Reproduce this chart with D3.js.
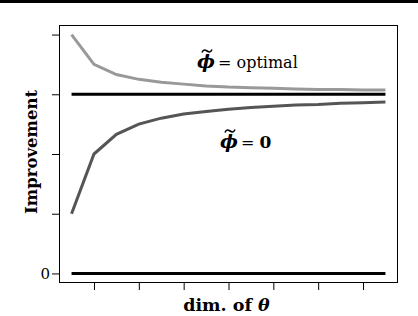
<!DOCTYPE html>
<html><head><meta charset="utf-8">
<script src="https://cdn.jsdelivr.net/npm/d3@7"></script>
<style>body{margin:0;background:#fff}svg{display:block}</style>
</head><body>
<script>
const dims = [1,2,3,4,5,6,7,8,9,10,11,12,13,14,15];
const optimal = [4, 3.5, 3.33, 3.25, 3.2, 3.17, 3.14, 3.12, 3.11, 3.1, 3.09, 3.08, 3.08, 3.07, 3.07];
const zero = [1, 2, 2.33, 2.5, 2.6, 2.67, 2.71, 2.75, 2.78, 2.8, 2.82, 2.83, 2.85, 2.86, 2.87];
const refLines = [0, 3];
const xTicks = [2,4,6,8,10,12,14];
const yTicks = [0,1,2,3,4];
const yTickLabels = ["0","","","",""];

const W=418,H=316;
const L=59,R=398,T=25,B=283;
const svg=d3.select("body").append("svg").attr("width",W).attr("height",H);
svg.append("rect").attr("x",0).attr("y",0).attr("width",W).attr("height",3).attr("fill","#000");

const x=d3.scaleLinear().domain([1-14*0.04,15+14*0.04]).range([L,R]);
const y=d3.scaleLinear().domain([-0.16,4.16]).range([B,T]);

svg.append("rect").attr("x",L+0.5).attr("y",T+0.5).attr("width",R-L-1).attr("height",B-T-1)
  .attr("fill","none").attr("stroke","#000").attr("stroke-width",1);

const xa=svg.append("g").attr("transform",`translate(0,${B})`)
  .call(d3.axisBottom(x).tickValues(xTicks).tickSize(7).tickFormat(""));
xa.select(".domain").remove();
const ya=svg.append("g").attr("transform",`translate(${L},0)`)
  .call(d3.axisLeft(y).tickValues(yTicks).tickSize(7).tickPadding(2).tickFormat((d,i)=>yTickLabels[i]));
ya.select(".domain").remove();
ya.selectAll("text").attr("font-family","DejaVu Serif, serif").attr("font-size",15).attr("fill","#000");

refLines.forEach(v=>{
  svg.append("line").attr("x1",x(1)).attr("x2",x(15)).attr("y1",y(v)).attr("y2",y(v))
    .attr("stroke","#000").attr("stroke-width",3);
});
const line=d3.line().x((d,i)=>x(dims[i])).y(d=>y(d));
svg.append("path").datum(optimal).attr("d",line).attr("fill","none").attr("stroke","#999").attr("stroke-width",3);
svg.append("path").datum(zero).attr("d",line).attr("fill","none").attr("stroke","#555").attr("stroke-width",3);

svg.append("text").attr("transform",`translate(37,${(T+B)/2-2}) rotate(-90)`).attr("text-anchor","middle")
  .attr("font-family","DejaVu Serif, serif").attr("font-weight","bold").attr("font-size",16.5).text("Improvement");

const xl=svg.append("text").attr("x",(L+R)/2-2).attr("y",311).attr("text-anchor","middle")
  .attr("font-family","DejaVu Serif, serif").attr("font-weight","bold").attr("font-size",17.5);
xl.append("tspan").text("dim.  of ");
xl.append("tspan").attr("font-style","italic").text("θ");

function annot(x0, yb, rest, restBold){
  const g=svg.append("g");
  const phi=g.append("text").attr("x",x0).attr("y",yb)
    .attr("font-family","DejaVu Serif, serif").attr("font-weight","bold").attr("font-style","italic")
    .attr("font-size",19).text("ϕ");
  const bb=phi.node().getBBox();
  const cx=bb.x+bb.width/2+1, ty=yb-17;
  g.append("path").attr("d",`M${cx-5},${ty+1.5} C${cx-3.5},${ty-2} ${cx-1.5},${ty-1} ${cx},${ty} S${cx+3.5},${ty+2} ${cx+5},${ty-1.5}`)
    .attr("fill","none").attr("stroke","#000").attr("stroke-width",1.6);
  const t=g.append("text").attr("x",bb.x+bb.width+3).attr("y",yb)
    .attr("font-family","DejaVu Serif, serif").attr("font-size",16);
  t.append("tspan").text("= ");
  t.append("tspan").attr("font-weight",restBold?"bold":"normal").attr("font-size",restBold?17:16).text(rest);
}
annot(197, 68, "optimal", false);
annot(220, 148, "0", true);
</script>
</body></html>
